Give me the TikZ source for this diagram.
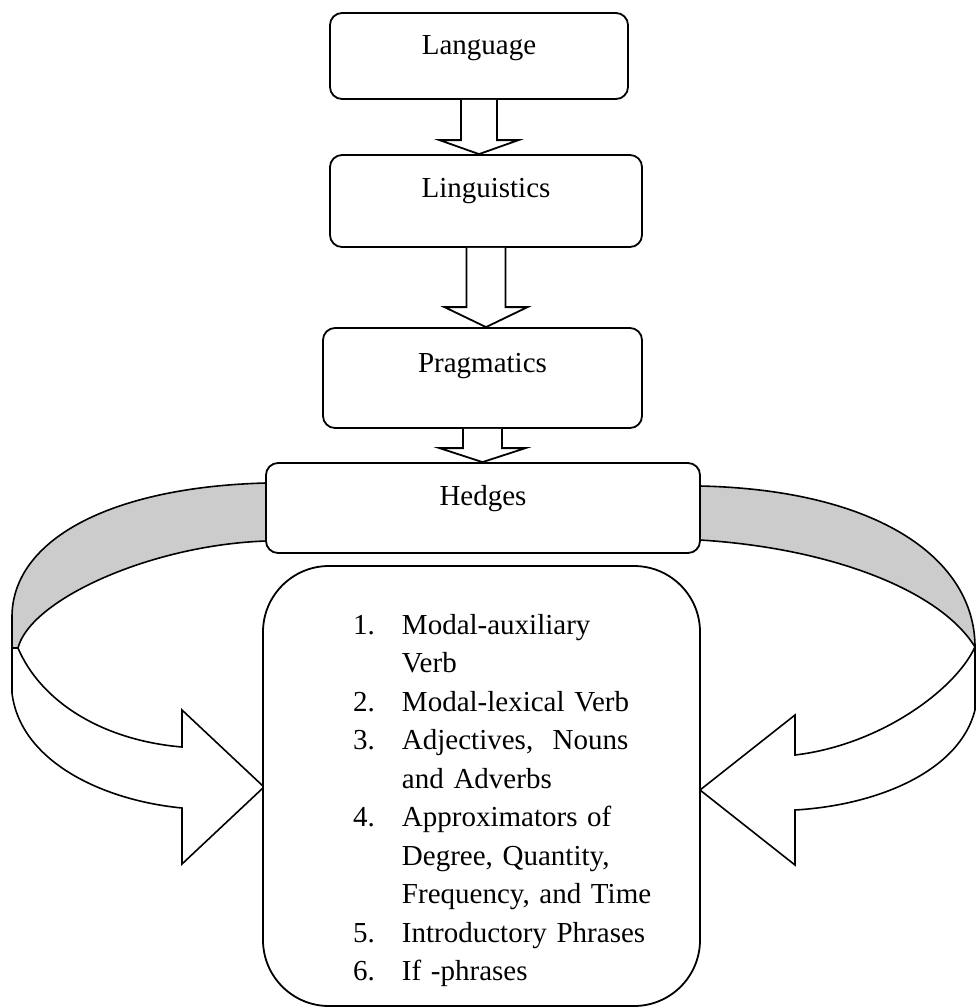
\documentclass[tikz,border=0pt]{standalone}
\usepackage{fontspec}
\setmainfont{Liberation Serif}
\usetikzlibrary{calc}
\tikzset{
  stage/.style={draw, rounded corners=6pt, line width=0.9pt, fill=white, inner sep=0pt, font=\fontsize{14.5}{17}\selectfont},
  listbox/.style={draw, rounded corners=33pt, line width=0.9pt, fill=white, inner sep=0pt,
    text width=218.5pt, align=left, text height=34pt, text depth=186pt, font=\fontsize{14.5}{19.25}\selectfont},
  stem/.style={draw, line width=0.9pt, fill=white, line join=miter},
  ribbon top/.style={draw, line width=0.8pt, fill=black!20},
  ribbon face/.style={draw, line width=0.8pt, fill=white},
}
\newcommand{\blockdown}[5]{%
  \draw[stem] let \p1=(#1.south), \p2=(#2.north) in
    (\x1-#3,\y1) -- (\x1-#3,\y2+#5) -- (\x1-#4,\y2+#5) -- (\x1,\y2)
    -- (\x1+#4,\y2+#5) -- (\x1+#3,\y2+#5) -- (\x1+#3,\y1);
}

\begin{document}
\begin{tikzpicture}[x=0.5pt, y=-0.5pt]
    \useasboundingbox (0,0) rectangle (976,1008);
    \draw[ribbon top] (300,483) -- (266,483) .. controls (110,487) and (12,540) .. (12,617)
      -- (12,648) -- (18,648) .. controls (30,600) and (150,545) .. (266,541) -- (300,541) -- cycle;
    \draw[ribbon face] (12,648) -- (12,693) .. controls (20,760) and (100,800) .. (182,808)
      -- (182,864) -- (264,787) -- (182,710) -- (182,747) .. controls (100,740) and (40,700) .. (18,648) -- cycle;
    \draw[ribbon top] (660,486) -- (700,486) .. controls (880,490) and (975,560) .. (975,647)
      .. controls (940,590) and (830,548) .. (700,540) -- (660,540) -- cycle;
    \draw[ribbon face] (975,647) -- (975,710) .. controls (960,770) and (880,805) .. (795,810)
      -- (795,865) -- (700,790) -- (795,715) -- (795,755) .. controls (880,745) and (955,690) .. (975,647) -- cycle;

    \node[stage, minimum width=149pt, text height=20.5pt, text depth=22.5pt] (Lang) at (479,56) {Language};
    \node[stage, minimum width=156pt, text height=21pt, text depth=25pt] (Ling) at (486,201) {Linguistics};
    \node[stage, minimum width=159.5pt, text height=22pt, text depth=28pt] (Prag) at (482.5,378) {Pragmatics};
    \node[stage, minimum width=217pt, text height=21pt, text depth=24pt] (Hedges) at (483,508) {Hedges};
    \node[listbox] (Types) at (481.5,786) {\hspace*{45pt}\begin{tabular}[t]{@{}p{24.5pt}@{}l@{}}
      1. & Modal-auxiliary\\
         & Verb\\
      2. & Modal-lexical Verb\\
      3. & Adjectives,\ \ Nouns\\
         & and Adverbs\\
      4. & Approximators of\\
         & Degree, Quantity,\\
         & Frequency, and Time\\
      5. & Introductory Phrases\\
      6. & If -phrases
    \end{tabular}};

    \blockdown{Lang}{Ling}{9pt}{19.75pt}{7pt}
    \blockdown{Ling}{Prag}{9.75pt}{20.75pt}{10pt}
    \blockdown{Prag}{Hedges}{9.75pt}{21.5pt}{7pt}
\end{tikzpicture}
\end{document}
